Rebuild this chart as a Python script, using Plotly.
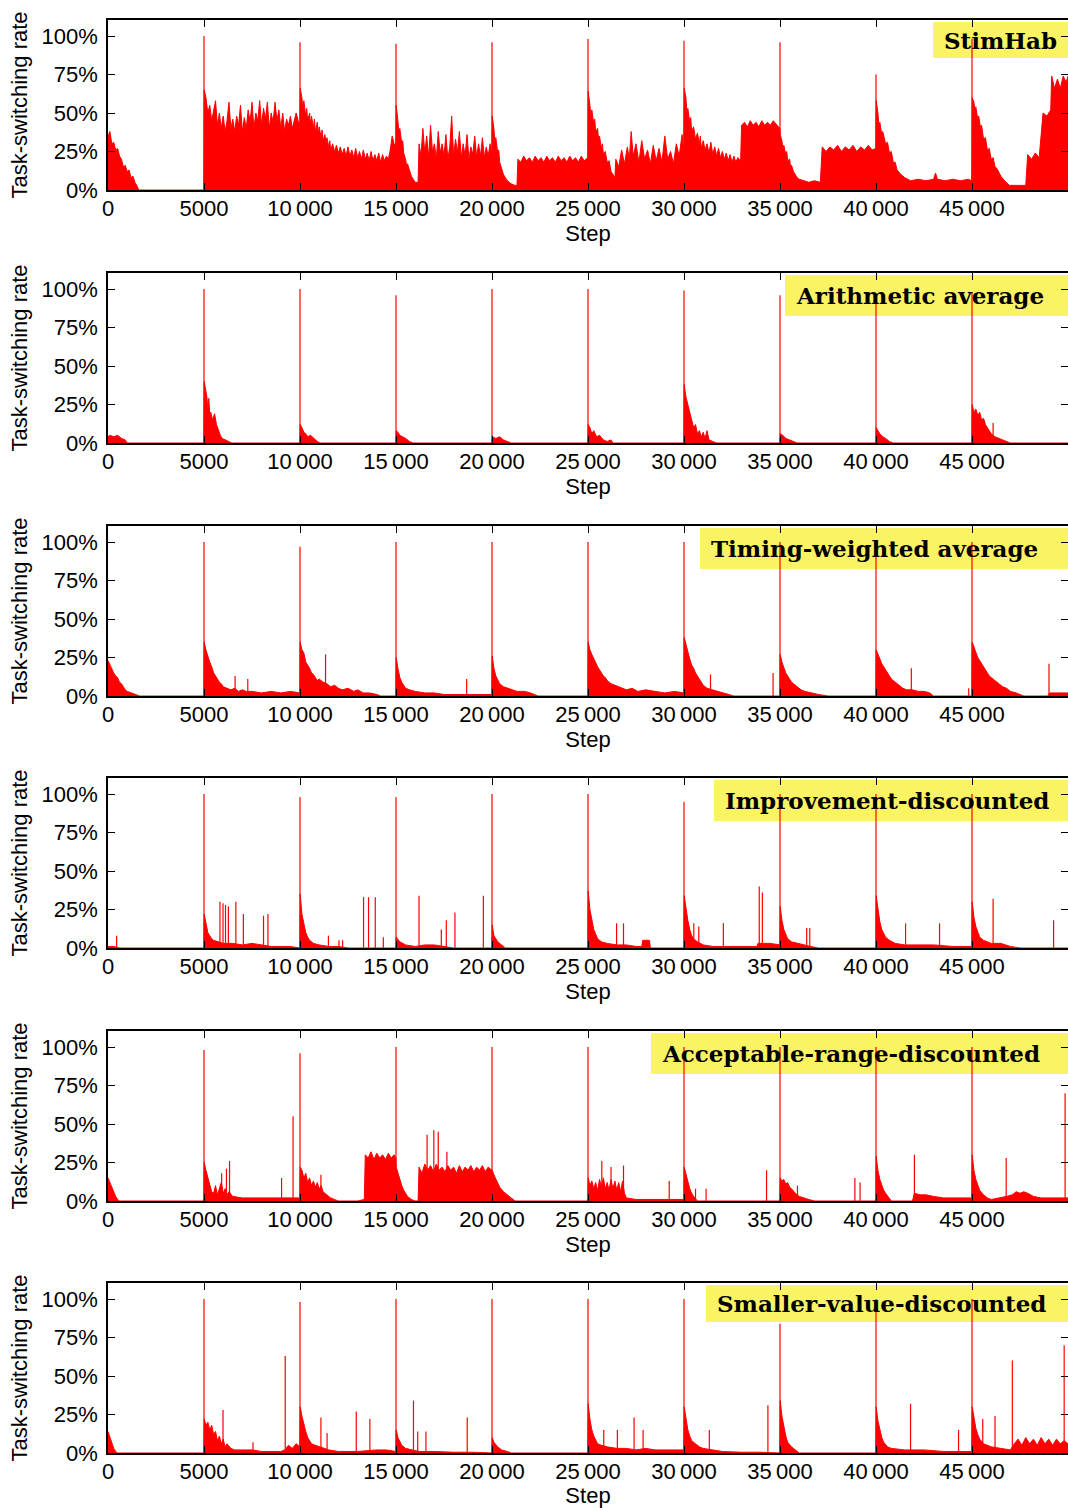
import plotly.graph_objects as go

# ---------------- data (step, task-switching rate in %) ----------------
STEP_TICKS = [0, 5000, 10000, 15000, 20000, 25000, 30000, 35000, 40000, 45000]
STEP_TICK_TEXT = ["0", "5000", "10\u2009000", "15\u2009000", "20\u2009000", "25\u2009000",
                  "30\u2009000", "35\u2009000", "40\u2009000", "45\u2009000"]
RATE_TICKS = [0, 25, 50, 75, 100]
RATE_TICK_TEXT = ["0%", "25%", "50%", "75%", "100%"]

PANEL_NAMES = ["StimHab", "Arithmetic average", "Timing-weighted average",
               "Improvement-discounted", "Acceptable-range-discounted", "Smaller-value-discounted"]

# --- StimHab: upper envelope of the dense trace (step, %) ---
STIMHAB_ENVELOPE = [
    (0, 35), (100, 38), (200, 30), (300, 31), (400, 26), (500, 27), (600, 22), (700, 20), (800, 15), (900, 16),
    (1000, 12), (1100, 13), (1200, 8), (1300, 9), (1400, 5), (1500, 3), (1600, 0), (4990, 0),
    (5010, 65), (5100, 60), (5200, 50), (5300, 55), (5400, 45), (5500, 52), (5600, 58), (5700, 42), (5800, 50),
    (5900, 40), (6000, 48), (6100, 38), (6200, 45), (6300, 57), (6400, 40), (6500, 46), (6600, 38), (6700, 48),
    (6800, 42), (6900, 55), (7000, 38), (7100, 47), (7200, 40), (7300, 52), (7400, 44), (7500, 57), (7600, 40),
    (7700, 50), (7800, 45), (7900, 58), (8000, 42), (8100, 53), (8200, 46), (8300, 57), (8400, 40), (8500, 50),
    (8600, 44), (8700, 57), (8800, 45), (8900, 52), (9000, 40), (9100, 50), (9200, 38), (9300, 46), (9400, 42),
    (9500, 48), (9600, 40), (9700, 45), (9800, 50), (9900, 45), (9990, 42),
    (10010, 66), (10100, 60), (10150, 52), (10200, 58), (10300, 48), (10350, 53), (10400, 45), (10500, 50),
    (10550, 42), (10600, 48), (10700, 40), (10750, 46), (10800, 38), (10900, 44), (10950, 36), (11000, 41),
    (11100, 34), (11150, 39), (11200, 32), (11300, 36), (11350, 30), (11400, 34), (11500, 28), (11550, 32),
    (11600, 26), (11700, 30), (11800, 25), (11900, 29), (12000, 24), (12100, 28), (12200, 23), (12300, 27),
    (12400, 22), (12500, 28), (12600, 22), (12700, 26), (12800, 21), (12900, 27), (13000, 21), (13100, 25),
    (13200, 20), (13300, 26), (13400, 20), (13500, 24), (13600, 19), (13700, 25), (13800, 19), (13900, 23),
    (14000, 19), (14100, 24), (14200, 18), (14300, 23), (14400, 19), (14500, 22), (14600, 20), (14700, 26),
    (14800, 35), (14900, 30), (14990, 28),
    (15010, 55), (15100, 45), (15150, 38), (15200, 40), (15300, 30), (15350, 32), (15400, 24), (15500, 20),
    (15550, 16), (15600, 17), (15700, 12), (15800, 9), (15900, 7), (16000, 5), (16150, 5),
    (16200, 30), (16300, 22), (16400, 40), (16500, 24), (16600, 35), (16700, 21), (16800, 42), (16900, 25),
    (17000, 30), (17100, 20), (17200, 38), (17300, 24), (17400, 30), (17500, 22), (17600, 36), (17700, 20),
    (17800, 28), (17900, 48), (18000, 22), (18100, 33), (18200, 24), (18300, 38), (18400, 21), (18500, 30),
    (18600, 22), (18700, 36), (18800, 20), (18900, 28), (19000, 23), (19100, 35), (19200, 21), (19300, 30),
    (19400, 22), (19500, 34), (19600, 21), (19700, 28), (19800, 22), (19900, 30), (19990, 22),
    (20010, 48), (20100, 40), (20150, 32), (20200, 34), (20300, 24), (20350, 26), (20400, 18), (20500, 14),
    (20600, 10), (20700, 8), (20800, 6), (20900, 5), (21000, 4), (21200, 3), (21300, 3),
    (21350, 20), (21500, 18), (21650, 22), (21800, 19), (21950, 21), (22100, 18), (22250, 22), (22400, 19),
    (22550, 21), (22700, 18), (22850, 22), (23000, 19), (23150, 21), (23300, 18), (23450, 22), (23600, 19),
    (23750, 21), (23900, 18), (24050, 22), (24200, 19), (24350, 21), (24500, 18), (24650, 22), (24800, 19),
    (24990, 21),
    (25010, 64), (25100, 55), (25150, 48), (25200, 52), (25300, 43), (25350, 46), (25400, 38), (25500, 40),
    (25550, 33), (25600, 35), (25700, 27), (25750, 30), (25800, 23), (25900, 25), (26000, 18), (26100, 19),
    (26200, 12), (26300, 10), (26400, 8),
    (26450, 20), (26600, 15), (26750, 26), (26900, 17), (27050, 28), (27150, 20), (27250, 38), (27350, 22),
    (27500, 30), (27650, 18), (27800, 32), (27950, 20), (28100, 26), (28250, 17), (28400, 29), (28550, 19),
    (28700, 27), (28850, 18), (29000, 35), (29150, 20), (29300, 25), (29450, 17), (29600, 30), (29750, 22),
    (29900, 36), (29990, 25),
    (30010, 66), (30100, 60), (30150, 50), (30200, 53), (30300, 44), (30350, 47), (30400, 38), (30500, 41),
    (30600, 33), (30700, 37), (30800, 30), (30850, 35), (30900, 27), (31000, 32), (31100, 26), (31200, 30),
    (31300, 24), (31400, 31), (31500, 23), (31600, 28), (31700, 22), (31800, 27), (31900, 21), (32000, 25),
    (32100, 20), (32200, 24), (32300, 19), (32400, 23), (32500, 18), (32600, 22), (32700, 18), (32800, 21),
    (32950, 19),
    (33000, 42), (33150, 44), (33300, 41), (33450, 45), (33600, 42), (33750, 44), (33900, 41), (34050, 45),
    (34200, 42), (34350, 44), (34500, 42), (34650, 45), (34800, 43), (34990, 40),
    (35010, 36), (35100, 32), (35150, 27), (35200, 29), (35300, 23), (35350, 25), (35400, 19), (35500, 20),
    (35550, 15), (35600, 16), (35700, 12), (35800, 10), (35900, 8), (36000, 7), (36200, 6), (36500, 5),
    (36800, 6), (37100, 5),
    (37200, 28), (37400, 25), (37600, 28), (37800, 26), (38000, 29), (38200, 25), (38400, 28), (38600, 26),
    (38800, 29), (39000, 25), (39200, 28), (39400, 26), (39600, 29), (39800, 26), (39990, 27),
    (40010, 58), (40100, 50), (40150, 42), (40200, 44), (40300, 36), (40350, 38), (40500, 30), (40600, 31),
    (40700, 24), (40800, 25), (40900, 18), (41000, 18), (41100, 13), (41300, 10), (41500, 8), (41800, 6),
    (42200, 7), (42600, 6), (43000, 7), (43100, 11), (43200, 7), (43600, 6), (44000, 7), (44400, 6),
    (44800, 7), (44990, 6),
    (45010, 60), (45100, 57), (45150, 52), (45200, 54), (45300, 46), (45350, 48), (45450, 40), (45500, 42),
    (45600, 33), (45700, 34), (45800, 26), (45900, 27), (46000, 20), (46100, 21), (46200, 15), (46300, 14),
    (46500, 9), (46700, 6), (46950, 3), (47300, 3), (47800, 3),
    (47900, 23), (48100, 20), (48300, 24), (48500, 21), (48700, 50), (48900, 48), (49100, 52), (49150, 74),
    (49300, 66), (49450, 72), (49600, 66), (49750, 74), (49900, 70), (50000, 74),
]
STIMHAB_SPIKE_X = [5000, 10000, 15000, 20000, 25000, 30000, 35000, 40000, 45000]
STIMHAB_SPIKE_Y = [100, 96, 95, 96, 98, 97, 96, 75, 98]

# --- Arithmetic average ---
ARITH_ENVELOPE = [
    (0, 4), (100, 5), (300, 4), (500, 5), (700, 3), (900, 2), (1000, 0), (4990, 0),
    (5010, 40), (5080, 35), (5150, 30), (5200, 22), (5250, 29), (5300, 18), (5350, 20), (5450, 15), (5550, 19),
    (5650, 12), (5750, 8), (5850, 5), (5950, 3), (6100, 2), (6300, 1), (6450, 0), (9990, 0),
    (10010, 12), (10100, 10), (10200, 7), (10300, 6), (10400, 4), (10550, 5), (10700, 3), (10900, 1),
    (11050, 0), (14990, 0),
    (15010, 8), (15100, 7), (15200, 5), (15350, 4), (15500, 3), (15700, 1), (15900, 0), (19990, 0),
    (20010, 4), (20200, 3), (20400, 4), (20600, 2), (20800, 1), (21000, 0), (24990, 0),
    (25010, 12), (25100, 10), (25200, 6), (25300, 8), (25450, 4), (25600, 5), (25800, 2), (26000, 1),
    (26200, 2), (26300, 0), (29990, 0),
    (30010, 38), (30100, 30), (30200, 25), (30300, 20), (30400, 14), (30500, 10), (30600, 12), (30700, 6),
    (30800, 8), (30900, 4), (31000, 7), (31100, 3), (31200, 8), (31300, 2), (31500, 1), (31700, 0), (34990, 0),
    (35010, 6), (35150, 5), (35300, 3), (35500, 2), (35700, 1), (35900, 0), (39990, 0),
    (40010, 10), (40100, 8), (40200, 6), (40350, 4), (40500, 3), (40700, 1), (40900, 0), (44990, 0),
    (45010, 25), (45100, 20), (45200, 22), (45300, 18), (45400, 20), (45500, 15), (45600, 16), (45700, 12),
    (45800, 10), (45900, 8), (46000, 6), (46200, 4), (46400, 3), (46600, 2), (46900, 1), (47000, 0), (50000, 0),
]
ARITH_SPIKE_X = [5000, 10000, 15000, 20000, 25000, 30000, 35000, 40000, 45000, 46100]
ARITH_SPIKE_Y = [100, 100, 96, 100, 100, 99, 96, 97, 98, 13]

# --- Timing-weighted average ---
TIMING_ENVELOPE = [
    (0, 23), (100, 20), (200, 17), (300, 15), (400, 13), (500, 12), (600, 9), (700, 8), (800, 6), (900, 4),
    (1000, 3), (1200, 2), (1400, 1), (1650, 0), (4990, 0),
    (5010, 35), (5100, 30), (5200, 25), (5300, 22), (5400, 19), (5500, 15), (5600, 13), (5700, 11), (5800, 9),
    (5900, 8), (6000, 6), (6200, 5), (6400, 4), (6600, 5), (6800, 3), (7000, 4), (7200, 3), (7500, 3),
    (8000, 2), (8500, 3), (9000, 2), (9500, 3), (9990, 2),
    (10010, 35), (10100, 30), (10200, 28), (10300, 22), (10400, 20), (10500, 18), (10600, 15), (10700, 14),
    (10800, 12), (10900, 10), (11000, 11), (11200, 9), (11400, 8), (11600, 6), (11800, 7), (12000, 5),
    (12200, 4), (12500, 5), (12800, 3), (13000, 4), (13300, 2), (13600, 2), (14000, 1), (14200, 0), (14990, 0),
    (15010, 25), (15100, 18), (15200, 12), (15300, 9), (15400, 7), (15500, 5), (15700, 4), (16000, 3),
    (16500, 2), (17000, 2), (17500, 1), (18000, 1), (18500, 1), (19000, 1), (19500, 1), (19990, 1),
    (20010, 26), (20100, 18), (20200, 13), (20300, 10), (20400, 8), (20600, 6), (20800, 5), (21000, 4),
    (21300, 3), (21700, 3), (22000, 2), (22400, 0), (24990, 0),
    (25010, 35), (25100, 30), (25200, 27), (25300, 24), (25400, 21), (25500, 19), (25600, 17), (25700, 15),
    (25800, 13), (25900, 12), (26000, 10), (26200, 8), (26400, 7), (26600, 6), (26800, 5), (27000, 4),
    (27300, 5), (27600, 3), (28000, 4), (28500, 3), (29000, 2), (29500, 3), (29990, 2),
    (30010, 38), (30100, 33), (30200, 28), (30300, 24), (30400, 20), (30500, 18), (30600, 15), (30700, 13),
    (30800, 11), (30900, 9), (31000, 7), (31200, 5), (31500, 4), (31800, 3), (32000, 2), (32300, 1),
    (32600, 0), (34990, 0),
    (35010, 27), (35100, 22), (35200, 18), (35300, 15), (35400, 13), (35500, 11), (35600, 9), (35700, 8),
    (35900, 6), (36100, 4), (36300, 3), (36600, 2), (37000, 1), (37500, 0), (39990, 0),
    (40010, 30), (40100, 27), (40200, 24), (40300, 21), (40400, 19), (40500, 17), (40600, 15), (40700, 13),
    (40800, 11), (40900, 10), (41000, 9), (41200, 7), (41400, 5), (41600, 4), (41900, 4), (42200, 3),
    (42500, 3), (42800, 2), (43000, 0), (44990, 0),
    (45010, 35), (45100, 32), (45200, 28), (45300, 25), (45400, 23), (45500, 21), (45600, 19), (45700, 17),
    (45800, 15), (45900, 13), (46000, 12), (46200, 10), (46400, 8), (46600, 6), (46800, 5), (47000, 3),
    (47300, 2), (47700, 0), (48950, 0), (49050, 2), (50000, 2),
]
TIMING_SPIKE_X = [5000, 10000, 15000, 20000, 25000, 30000, 35000, 40000, 45000,
                  6620, 7280, 11330, 18680, 31380, 34640, 41840, 44830, 49010]
TIMING_SPIKE_Y = [100, 97, 100, 100, 100, 100, 100, 100, 100,
                  13, 11, 27, 11, 14, 15, 18, 5, 21]

# --- Improvement-discounted ---
IMPROVE_ENVELOPE = [
    (0, 1), (300, 1), (600, 0), (4990, 0),
    (5010, 22), (5100, 15), (5200, 10), (5300, 8), (5400, 6), (5500, 5), (5700, 4), (6000, 3), (6500, 3),
    (7000, 2), (7500, 3), (8000, 2), (8500, 1), (9000, 1), (9500, 1), (9990, 0),
    (10010, 35), (10100, 22), (10200, 15), (10300, 10), (10400, 7), (10500, 5), (10700, 3), (11000, 2),
    (11500, 1), (12000, 1), (12500, 0), (14990, 0),
    (15010, 7), (15200, 4), (15500, 2), (16000, 1), (16500, 2), (17000, 2), (17500, 1), (18000, 0), (19990, 0),
    (20010, 15), (20100, 8), (20300, 4), (20500, 2), (20700, 0), (24990, 0),
    (25010, 37), (25100, 25), (25200, 18), (25300, 12), (25400, 9), (25500, 6), (25700, 4), (26000, 3),
    (26500, 2), (27000, 2), (27500, 1), (27800, 1), (27850, 5), (28200, 5), (28250, 0), (29990, 0),
    (30010, 34), (30100, 25), (30200, 18), (30300, 12), (30400, 8), (30500, 6), (30700, 4), (31000, 2),
    (31500, 1), (32000, 1), (33000, 1), (33800, 1), (33850, 3), (34500, 3), (34990, 2),
    (35010, 27), (35100, 18), (35200, 12), (35300, 9), (35400, 6), (35600, 4), (35900, 3), (36200, 2),
    (36600, 1), (37000, 0), (39990, 0),
    (40010, 34), (40100, 24), (40200, 17), (40300, 12), (40400, 9), (40500, 7), (40700, 5), (41000, 3),
    (41500, 2), (42000, 2), (43000, 2), (44000, 1), (44990, 1),
    (45010, 30), (45100, 20), (45200, 14), (45300, 10), (45400, 7), (45600, 5), (45800, 4), (46000, 3),
    (46500, 3), (47000, 1), (47500, 0), (50000, 0),
]
IMPROVE_SPIKE_X = [5000, 10000, 15000, 20000, 25000, 30000, 35000, 40000, 45000,
                   450, 5830, 5990, 6120, 6270, 6660, 7050, 8100, 8330, 11480, 12030, 12220,
                   13310, 13570, 13920, 14340, 16200, 17360, 17620, 18070, 19550, 26490, 26850,
                   30510, 30770, 32050, 33920, 34080, 36390, 36550, 41540, 43310, 46100, 49250]
IMPROVE_SPIKE_Y = [100, 98, 98, 100, 100, 95, 100, 100, 100,
                   8, 30, 29, 28, 27, 30, 22, 21, 22, 8, 5, 5,
                   33, 33, 33, 7, 34, 12, 18, 23, 34, 16, 16,
                   16, 14, 16, 40, 36, 13, 13, 16, 16, 32, 18]

# --- Acceptable-range-discounted ---
ACCEPT_ENVELOPE = [
    (0, 15), (100, 12), (200, 8), (300, 5), (400, 3), (500, 1), (600, 0), (4990, 0),
    (5010, 25), (5100, 20), (5200, 15), (5300, 10), (5400, 6), (5500, 5), (5600, 10), (5700, 4), (5800, 8),
    (5900, 12), (6000, 5), (6100, 8), (6200, 4), (6300, 6), (6500, 3), (7000, 2), (7500, 2), (8000, 2),
    (8500, 2), (9000, 2), (9500, 2), (9990, 2),
    (10010, 22), (10100, 20), (10200, 15), (10300, 18), (10400, 12), (10500, 15), (10600, 10), (10700, 13),
    (10800, 9), (10900, 12), (11000, 8), (11100, 10), (11200, 6), (11400, 4), (11600, 2), (11800, 1),
    (12000, 0), (13000, 0), (13350, 1),
    (13400, 30), (13550, 28), (13700, 32), (13850, 27), (14000, 31), (14150, 28), (14300, 30), (14450, 27),
    (14600, 31), (14750, 28), (14900, 30), (14990, 28),
    (15010, 22), (15100, 18), (15200, 14), (15300, 10), (15400, 7), (15500, 5), (15600, 3), (15800, 1),
    (16000, 0), (16150, 0),
    (16200, 22), (16350, 18), (16500, 24), (16650, 20), (16800, 23), (16950, 19), (17100, 24), (17250, 20),
    (17400, 22), (17550, 19), (17700, 23), (17850, 20), (18000, 22), (18150, 18), (18300, 23), (18450, 19),
    (18600, 22), (18750, 20), (18900, 23), (19050, 19), (19200, 22), (19350, 20), (19500, 23), (19650, 19),
    (19800, 22), (19990, 20),
    (20010, 20), (20100, 17), (20200, 14), (20300, 11), (20400, 9), (20600, 6), (20800, 4), (21000, 2),
    (21200, 0), (24990, 0),
    (25010, 15), (25100, 10), (25200, 13), (25300, 8), (25400, 12), (25500, 7), (25600, 14), (25700, 9),
    (25800, 15), (25900, 8), (26000, 12), (26100, 7), (26200, 14), (26300, 8), (26400, 13), (26500, 7),
    (26600, 12), (26700, 6), (26800, 13), (26900, 5), (27000, 2), (27500, 1), (28000, 1), (28500, 1),
    (29000, 1), (29500, 1), (29990, 1),
    (30010, 22), (30100, 17), (30200, 12), (30300, 8), (30400, 5), (30500, 3), (30700, 0), (34990, 0),
    (35010, 15), (35100, 13), (35200, 14), (35300, 11), (35400, 12), (35500, 9), (35600, 8), (35800, 5),
    (36000, 3), (36200, 2), (36500, 1), (36800, 0), (39990, 0),
    (40010, 29), (40100, 20), (40200, 14), (40300, 10), (40400, 7), (40500, 5), (40700, 2), (40800, 0),
    (41900, 0), (42000, 5), (42300, 4), (42600, 4), (43000, 3), (43500, 2), (44000, 2), (44990, 2),
    (45010, 30), (45100, 20), (45200, 14), (45300, 10), (45400, 7), (45600, 4), (45800, 2), (46000, 1),
    (46500, 2), (46800, 3), (47100, 4), (47300, 6), (47500, 5), (47700, 6), (47900, 5), (48200, 3),
    (48600, 2), (49000, 2), (49500, 2), (49700, 2), (50000, 2),
]
ACCEPT_SPIKE_X = [5000, 10000, 15000, 20000, 25000, 30000, 35000, 40000, 45000,
                  5920, 6170, 6330, 9040, 9640, 11090, 16620, 16970, 17200, 17650, 25720, 26200, 26850,
                  29230, 30600, 31150, 34300, 35910, 38900, 39170, 42000, 46780, 49850]
ACCEPT_SPIKE_Y = [98, 96, 100, 100, 100, 100, 100, 100, 100,
                  18, 21, 26, 15, 55, 17, 43, 46, 45, 32, 26, 22, 23,
                  13, 8, 8, 20, 10, 15, 12, 30, 28, 70]

# --- Smaller-value-discounted ---
SMALLER_ENVELOPE = [
    (0, 14), (100, 10), (200, 6), (300, 3), (400, 1), (500, 0), (4990, 0),
    (5010, 22), (5100, 18), (5200, 20), (5300, 15), (5400, 18), (5500, 12), (5600, 14), (5700, 8), (5800, 11),
    (5900, 6), (6000, 9), (6100, 4), (6200, 6), (6400, 3), (6600, 2), (7000, 2), (7500, 2), (8000, 1),
    (8500, 1), (9000, 1), (9200, 2), (9400, 5), (9600, 3), (9800, 6), (9990, 4),
    (10010, 30), (10100, 24), (10200, 18), (10300, 14), (10400, 10), (10500, 8), (10600, 6), (10800, 5),
    (11000, 4), (11200, 3), (11500, 2), (12000, 1), (13000, 1), (14000, 2), (14500, 2), (14990, 1),
    (15010, 15), (15100, 10), (15200, 7), (15300, 5), (15500, 3), (15800, 2), (16200, 1), (17000, 1),
    (18000, 0.5), (19000, 0.5), (19990, 0),
    (20010, 10), (20100, 7), (20300, 4), (20500, 2), (20800, 1), (21000, 0), (24990, 0),
    (25010, 32), (25100, 22), (25200, 15), (25300, 11), (25400, 8), (25500, 6), (25700, 5), (26000, 4),
    (26500, 3), (27000, 3), (27500, 2), (28000, 3), (28500, 2), (29000, 2), (29500, 2), (29990, 2),
    (30010, 30), (30100, 22), (30200, 15), (30300, 11), (30400, 8), (30600, 6), (30800, 4), (31000, 3),
    (31500, 2), (32000, 1), (33000, 0.5), (34000, 0.5), (34990, 0),
    (35010, 34), (35100, 24), (35200, 16), (35300, 11), (35400, 7), (35600, 4), (35800, 2), (36000, 0),
    (39990, 0),
    (40010, 30), (40100, 21), (40200, 15), (40300, 10), (40400, 7), (40600, 4), (40800, 3), (41500, 2),
    (42500, 2), (43500, 1), (44500, 1), (44990, 1),
    (45010, 30), (45100, 22), (45200, 16), (45300, 12), (45400, 9), (45600, 6), (45800, 5), (46000, 4),
    (46500, 3), (47000, 2), (47200, 6), (47400, 9), (47600, 5), (47800, 10), (48000, 6), (48200, 9),
    (48400, 5), (48600, 10), (48800, 6), (49000, 9), (49200, 5), (49400, 9), (49600, 6), (49800, 8),
    (50000, 6),
]
SMALLER_SPIKE_X = [5000, 10000, 15000, 20000, 25000, 30000, 35000, 40000, 45000,
                   5990, 7550, 9230, 11090, 11410, 12930, 13640, 15910, 16130, 16560, 18710, 25820, 26530,
                   27400, 27870, 31320, 34370, 41800, 44300, 45560, 46200, 47100, 49800]
SMALLER_SPIKE_Y = [100, 98, 100, 100, 100, 100, 84, 100, 100,
                   28, 7, 63, 23, 13, 27, 22, 34, 14, 14, 23, 15, 15,
                   23, 15, 15, 31, 32, 15, 22, 24, 60, 70]

PANELS = [
    (STIMHAB_ENVELOPE, STIMHAB_SPIKE_X, STIMHAB_SPIKE_Y),
    (ARITH_ENVELOPE, ARITH_SPIKE_X, ARITH_SPIKE_Y),
    (TIMING_ENVELOPE, TIMING_SPIKE_X, TIMING_SPIKE_Y),
    (IMPROVE_ENVELOPE, IMPROVE_SPIKE_X, IMPROVE_SPIKE_Y),
    (ACCEPT_ENVELOPE, ACCEPT_SPIKE_X, ACCEPT_SPIKE_Y),
    (SMALLER_ENVELOPE, SMALLER_SPIKE_X, SMALLER_SPIKE_Y),
]

# ---------------- layout ----------------
W, H = 1068, 1508
LEFT = 108
PANEL_TOPS = [20, 273, 526, 778, 1031, 1283]
PANEL_H = 170
BOX_LEFT = [933, 785, 700, 714, 651, 706]
BOX_H = [36, 41, 41, 41, 41, 37]

RED = "#ff0000"
YELLOW = "rgb(250,243,100)"
TICK_FONT = dict(family="Liberation Sans, Arial, sans-serif", size=22, color="black")

fig = go.Figure()
layout = dict(
    width=W, height=H, margin=dict(l=LEFT, r=0, t=0, b=0, autoexpand=False),
    paper_bgcolor="white", plot_bgcolor="white", showlegend=False,
    shapes=[], annotations=[],
)

for i, (env, sx, sy) in enumerate(PANELS):
    n = "" if i == 0 else str(i + 1)
    xa, ya = "x" + n, "y" + n
    ex = [p[0] for p in env]
    ey = [p[1] for p in env]
    fig.add_trace(go.Scatter(x=ex, y=ey, xaxis=xa, yaxis=ya, mode="lines",
                             line=dict(color=RED, width=1), fill="tozeroy", fillcolor=RED,
                             hoverinfo="skip"))
    px, py = [], []
    for s, h in zip(sx, sy):
        px += [s, s, None]
        py += [0, h, None]
    fig.add_trace(go.Scatter(x=px, y=py, xaxis=xa, yaxis=ya, mode="lines",
                             line=dict(color=RED, width=1.2), hoverinfo="skip"))

    top = PANEL_TOPS[i]
    y1 = 1 - top / H
    y0 = 1 - (top + PANEL_H) / H
    layout["xaxis" + n] = dict(
        domain=[0, 1], anchor=ya, range=[0, 50000], automargin=False,
        tickmode="array", tickvals=STEP_TICKS, ticktext=STEP_TICK_TEXT,
        ticks="inside", ticklen=7, tickwidth=1.2, tickcolor="black",
        showline=True, linecolor="black", linewidth=1.5, mirror="allticks",
        showgrid=False, zeroline=False, tickfont=TICK_FONT, ticklabelstandoff=-2,
        title=dict(text="Step", font=TICK_FONT, standoff=0),
    )
    layout["yaxis" + n] = dict(
        domain=[y0, y1], anchor=xa, range=[0, 110.4], automargin=False,
        tickmode="array", tickvals=RATE_TICKS, ticktext=RATE_TICK_TEXT,
        ticks="inside", ticklen=7, tickwidth=1.2, tickcolor="black",
        showline=True, linecolor="black", linewidth=1.5, mirror="allticks",
        showgrid=False, zeroline=False, tickfont=TICK_FONT, ticklabelstandoff=4,
        title=dict(text="Task-switching rate", font=TICK_FONT, standoff=8),
    )
    bx0 = (BOX_LEFT[i] - LEFT) / (W - LEFT)
    by1 = (PANEL_H - 2) / PANEL_H
    by0 = (PANEL_H - 2 - BOX_H[i]) / PANEL_H
    layout["shapes"].append(dict(type="rect", xref=xa + " domain", yref=ya + " domain",
                                 x0=bx0, x1=1.02, y0=by0, y1=by1, fillcolor=YELLOW,
                                 line=dict(width=0), layer="below"))
    layout["annotations"].append(dict(
        text="<b>" + PANEL_NAMES[i] + "</b>", xref=xa + " domain", yref=ya + " domain",
        x=bx0 + 9 / (W - LEFT), y=(by0 + by1) / 2, xanchor="left", yanchor="middle",
        showarrow=False, font=dict(family="DejaVu Serif, serif", size=23, color="black")))

fig.update_layout(**layout)
fig.write_html("out.html", config={"displayModeBar": False},
               post_script="document.body.style.margin='0';document.body.style.overflow='hidden';")
